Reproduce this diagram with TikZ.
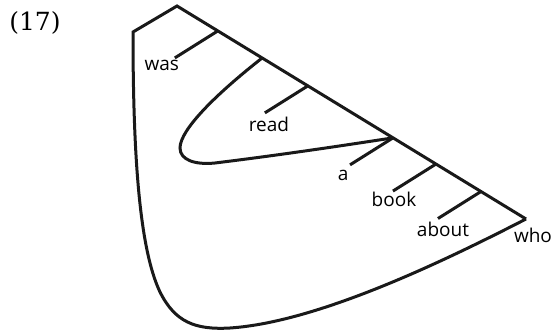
\documentclass[tikz,border=0pt]{standalone}
\usepackage{fontspec}
\setmainfont{Open Sans}
\newfontfamily\exnumfont{DejaVu Serif}
\usepackage{tikz}
\usetikzlibrary{positioning,calc}
\tikzset{
  treeline/.style={draw=black!90,line width=3pt,line join=miter},
  wordlabel/.style={inner sep=0pt,font=\fontsize{19}{21}\selectfont},
  exnum/.style={inner sep=0pt,font=\exnumfont\fontsize{25}{27}\selectfont}
}

\begin{document}
\begin{tikzpicture}[x=1pt,y=-1pt]
  \useasboundingbox (0,0) rectangle (554,331);
  \node[exnum] (num) at (35,23) {(17)};
  \coordinate (apex) at (177,6);
  \coordinate (lcorner) at (133,32);
  \coordinate (rend) at (526,219);
  % junctions on the spine
  \path (apex) -- (rend)
    coordinate[pos=0.117] (jwas)
    coordinate[pos=0.244] (jloop)
    coordinate[pos=0.375] (jread)
    coordinate[pos=0.619] (ja)
    coordinate[pos=0.742] (jbook)
    coordinate[pos=0.871] (jabout);
  % outer contour
  \draw[treeline] (rend) .. controls (450,258) and (320,322) .. (230,328)
    .. controls (195,330) and (175,322) .. (160,292)
    .. controls (140,250) and (133,160) .. (lcorner) -- (apex) -- (rend);
  % inner loop
  \draw[treeline] (jloop) .. controls (215,95) and (180,130) .. (180,148)
    .. controls (180,160) and (195,165) .. (215,163)
    .. controls (280,155) and (340,146) .. (ja);
  % ticks
  \foreach \j in {was,read,a,book,about}
    \draw[treeline] (j\j) -- ++(-43,27) coordinate (e\j);
  \node[wordlabel,below=2pt of ewas,xshift=-13pt] (was) {was};
  \node[wordlabel,below=4pt of eread,xshift=4pt] (read) {read};
  \node[wordlabel,below=5pt of ea,xshift=-7pt] (a) {a};
  \node[wordlabel,below=1pt of ebook,xshift=1pt] (book) {book};
  \node[wordlabel,below=3pt of eabout,xshift=5pt] (about) {about};
  \node[wordlabel,below=9pt of rend,xshift=7pt] (who) {who};
\end{tikzpicture}
\end{document}
